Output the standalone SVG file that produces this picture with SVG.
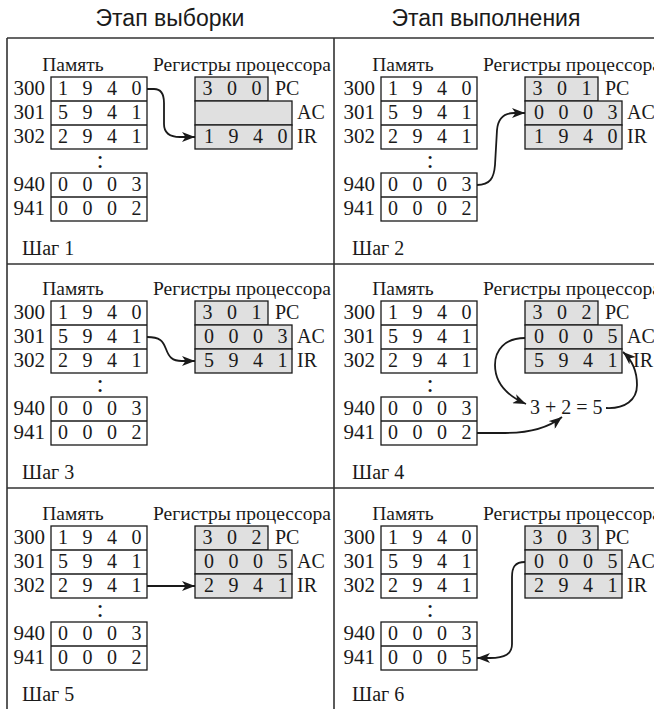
<svg xmlns="http://www.w3.org/2000/svg" width="654" height="709" viewBox="0 0 654 709">
<style>
text{font-family:"Liberation Serif","Times New Roman",serif;fill:#1a1a1a;font-size:20px}
.title{font-family:"Liberation Sans",Arial,sans-serif;font-size:23px;text-anchor:middle}
.h{font-size:19.5px}
.c{text-anchor:middle}
.e{text-anchor:end;font-size:21px}
.mem{fill:#fff;stroke:#1a1a1a;stroke-width:1.3}
.reg{fill:#e0e0e0;stroke:#1a1a1a;stroke-width:1.3}
.div{fill:none;stroke:#1a1a1a;stroke-width:1.3}
.frame{fill:none;stroke:#333;stroke-width:1.6}
.arr{fill:none;stroke:#1a1a1a;stroke-width:1.8;marker-end:url(#ah)}
</style>
<defs>
<marker id="ah" markerUnits="userSpaceOnUse" markerWidth="14" markerHeight="10" refX="13" refY="5" orient="auto">
<path d="M0,0 L13,5 L0,10 L3.5,5 z" fill="#1a1a1a"/>
</marker>
</defs>
<rect width="654" height="709" fill="#fff"/>
<text class="title" x="170" y="26">Этап выборки</text>
<text class="title" x="486" y="26">Этап выполнения</text>
<g id="frame">
<path class="frame" d="M7,38 H654 M7,38 V709 M334,38 V709 M7,264 H654 M7,488 H654"/>
</g>

<g id="step1" transform="translate(0,0)">
<text class="c h" x="73" y="71">Память</text>
<text class="h" x="153" y="71">Регистры процессора</text>
<rect class="mem" x="51" y="77" width="96" height="72"/>
<path class="div" d="M51,101 H147 M51,125 H147"/>
<rect class="mem" x="51" y="173" width="96" height="48"/>
<path class="div" d="M51,197 H147"/>
<text class="e" x="45" y="95">300</text>
<text class="e" x="45" y="119">301</text>
<text class="e" x="45" y="143">302</text>
<text class="c" x="100" y="168" style="font-size:26px">:</text>
<text class="e" x="45" y="191">940</text>
<text class="e" x="45" y="215">941</text>
<text class="c" x="63 87.5 112 136.5" y="95">1940</text>
<text class="c" x="63 87.5 112 136.5" y="119">5941</text>
<text class="c" x="63 87.5 112 136.5" y="143">2941</text>
<text class="c" x="63 87.5 112 136.5" y="191">0003</text>
<text class="c" x="63 87.5 112 136.5" y="215">0002</text>
<rect class="reg" x="195" y="77" width="73" height="24"/>
<rect class="reg" x="195" y="101" width="97" height="24"/>
<rect class="reg" x="195" y="125" width="97" height="24"/>
<text class="c" x="207.5 232 256.5" y="95">300</text>
<text class="c" x="209 233.5 258 282.5" y="143">1940</text>
<text x="275" y="95">PC</text>
<text x="297" y="119">AC</text>
<text x="297" y="143">IR</text>
<text x="22" y="255">Шаг 1</text>
</g>

<g id="step2" transform="translate(330,0)">
<text class="c h" x="73" y="71">Память</text>
<text class="h" x="153" y="71">Регистры процессора</text>
<rect class="mem" x="51" y="77" width="96" height="72"/>
<path class="div" d="M51,101 H147 M51,125 H147"/>
<rect class="mem" x="51" y="173" width="96" height="48"/>
<path class="div" d="M51,197 H147"/>
<text class="e" x="45" y="95">300</text>
<text class="e" x="45" y="119">301</text>
<text class="e" x="45" y="143">302</text>
<text class="c" x="100" y="168" style="font-size:26px">:</text>
<text class="e" x="45" y="191">940</text>
<text class="e" x="45" y="215">941</text>
<text class="c" x="63 87.5 112 136.5" y="95">1940</text>
<text class="c" x="63 87.5 112 136.5" y="119">5941</text>
<text class="c" x="63 87.5 112 136.5" y="143">2941</text>
<text class="c" x="63 87.5 112 136.5" y="191">0003</text>
<text class="c" x="63 87.5 112 136.5" y="215">0002</text>
<rect class="reg" x="195" y="77" width="73" height="24"/>
<rect class="reg" x="195" y="101" width="97" height="24"/>
<rect class="reg" x="195" y="125" width="97" height="24"/>
<text class="c" x="207.5 232 256.5" y="95">301</text>
<text class="c" x="209 233.5 258 282.5" y="119">0003</text>
<text class="c" x="209 233.5 258 282.5" y="143">1940</text>
<text x="275" y="95">PC</text>
<text x="297" y="119">AC</text>
<text x="297" y="143">IR</text>
<text x="22" y="255">Шаг 2</text>
</g>

<g id="step3" transform="translate(0,224)">
<text class="c h" x="73" y="71">Память</text>
<text class="h" x="153" y="71">Регистры процессора</text>
<rect class="mem" x="51" y="77" width="96" height="72"/>
<path class="div" d="M51,101 H147 M51,125 H147"/>
<rect class="mem" x="51" y="173" width="96" height="48"/>
<path class="div" d="M51,197 H147"/>
<text class="e" x="45" y="95">300</text>
<text class="e" x="45" y="119">301</text>
<text class="e" x="45" y="143">302</text>
<text class="c" x="100" y="168" style="font-size:26px">:</text>
<text class="e" x="45" y="191">940</text>
<text class="e" x="45" y="215">941</text>
<text class="c" x="63 87.5 112 136.5" y="95">1940</text>
<text class="c" x="63 87.5 112 136.5" y="119">5941</text>
<text class="c" x="63 87.5 112 136.5" y="143">2941</text>
<text class="c" x="63 87.5 112 136.5" y="191">0003</text>
<text class="c" x="63 87.5 112 136.5" y="215">0002</text>
<rect class="reg" x="195" y="77" width="73" height="24"/>
<rect class="reg" x="195" y="101" width="97" height="24"/>
<rect class="reg" x="195" y="125" width="97" height="24"/>
<text class="c" x="207.5 232 256.5" y="95">301</text>
<text class="c" x="209 233.5 258 282.5" y="119">0003</text>
<text class="c" x="209 233.5 258 282.5" y="143">5941</text>
<text x="275" y="95">PC</text>
<text x="297" y="119">AC</text>
<text x="297" y="143">IR</text>
<text x="22" y="255">Шаг 3</text>
</g>

<g id="step4" transform="translate(330,224)">
<text class="c h" x="73" y="71">Память</text>
<text class="h" x="153" y="71">Регистры процессора</text>
<rect class="mem" x="51" y="77" width="96" height="72"/>
<path class="div" d="M51,101 H147 M51,125 H147"/>
<rect class="mem" x="51" y="173" width="96" height="48"/>
<path class="div" d="M51,197 H147"/>
<text class="e" x="45" y="95">300</text>
<text class="e" x="45" y="119">301</text>
<text class="e" x="45" y="143">302</text>
<text class="c" x="100" y="168" style="font-size:26px">:</text>
<text class="e" x="45" y="191">940</text>
<text class="e" x="45" y="215">941</text>
<text class="c" x="63 87.5 112 136.5" y="95">1940</text>
<text class="c" x="63 87.5 112 136.5" y="119">5941</text>
<text class="c" x="63 87.5 112 136.5" y="143">2941</text>
<text class="c" x="63 87.5 112 136.5" y="191">0003</text>
<text class="c" x="63 87.5 112 136.5" y="215">0002</text>
<rect class="reg" x="195" y="77" width="73" height="24"/>
<rect class="reg" x="195" y="101" width="97" height="24"/>
<rect class="reg" x="195" y="125" width="97" height="24"/>
<text class="c" x="207.5 232 256.5" y="95">302</text>
<text class="c" x="209 233.5 258 282.5" y="119">0005</text>
<text class="c" x="209 233.5 258 282.5" y="143">5941</text>
<text x="275" y="95">PC</text>
<text x="297" y="119">AC</text>
<text x="303" y="143">IR</text>
<text x="200" y="190">3 + 2 = 5</text>
<text x="22" y="255">Шаг 4</text>
</g>

<g id="step5" transform="translate(0,449)">
<text class="c h" x="73" y="71">Память</text>
<text class="h" x="153" y="71">Регистры процессора</text>
<rect class="mem" x="51" y="77" width="96" height="72"/>
<path class="div" d="M51,101 H147 M51,125 H147"/>
<rect class="mem" x="51" y="173" width="96" height="48"/>
<path class="div" d="M51,197 H147"/>
<text class="e" x="45" y="95">300</text>
<text class="e" x="45" y="119">301</text>
<text class="e" x="45" y="143">302</text>
<text class="c" x="100" y="168" style="font-size:26px">:</text>
<text class="e" x="45" y="191">940</text>
<text class="e" x="45" y="215">941</text>
<text class="c" x="63 87.5 112 136.5" y="95">1940</text>
<text class="c" x="63 87.5 112 136.5" y="119">5941</text>
<text class="c" x="63 87.5 112 136.5" y="143">2941</text>
<text class="c" x="63 87.5 112 136.5" y="191">0003</text>
<text class="c" x="63 87.5 112 136.5" y="215">0002</text>
<rect class="reg" x="195" y="77" width="73" height="24"/>
<rect class="reg" x="195" y="101" width="97" height="24"/>
<rect class="reg" x="195" y="125" width="97" height="24"/>
<text class="c" x="207.5 232 256.5" y="95">302</text>
<text class="c" x="209 233.5 258 282.5" y="119">0005</text>
<text class="c" x="209 233.5 258 282.5" y="143">2941</text>
<text x="275" y="95">PC</text>
<text x="297" y="119">AC</text>
<text x="297" y="143">IR</text>
<text x="22" y="252">Шаг 5</text>
</g>

<g id="step6" transform="translate(330,449)">
<text class="c h" x="73" y="71">Память</text>
<text class="h" x="153" y="71">Регистры процессора</text>
<rect class="mem" x="51" y="77" width="96" height="72"/>
<path class="div" d="M51,101 H147 M51,125 H147"/>
<rect class="mem" x="51" y="173" width="96" height="48"/>
<path class="div" d="M51,197 H147"/>
<text class="e" x="45" y="95">300</text>
<text class="e" x="45" y="119">301</text>
<text class="e" x="45" y="143">302</text>
<text class="c" x="100" y="168" style="font-size:26px">:</text>
<text class="e" x="45" y="191">940</text>
<text class="e" x="45" y="215">941</text>
<text class="c" x="63 87.5 112 136.5" y="95">1940</text>
<text class="c" x="63 87.5 112 136.5" y="119">5941</text>
<text class="c" x="63 87.5 112 136.5" y="143">2941</text>
<text class="c" x="63 87.5 112 136.5" y="191">0003</text>
<text class="c" x="63 87.5 112 136.5" y="215">0005</text>
<rect class="reg" x="195" y="77" width="73" height="24"/>
<rect class="reg" x="195" y="101" width="97" height="24"/>
<rect class="reg" x="195" y="125" width="97" height="24"/>
<text class="c" x="207.5 232 256.5" y="95">303</text>
<text class="c" x="209 233.5 258 282.5" y="119">0005</text>
<text class="c" x="209 233.5 258 282.5" y="143">2941</text>
<text x="275" y="95">PC</text>
<text x="297" y="119">AC</text>
<text x="297" y="143">IR</text>
<text x="22" y="252">Шаг 6</text>
</g>

<g id="connectors">
<path class="arr" d="M147,89 L154,89 C162,89 164,95 164,103 L164,124 C164,133 170,137 180,137 L195,137"/>
<path class="arr" d="M477,185 C490,185 494,178 495,165 L497,130 C498,118 504,113 514,113 L525,113"/>
<path class="arr" d="M147,337 C160,337 163,341 166,349 C169,357 172,361 182,361 L195,361"/>
<path class="arr" d="M477,433 L505,433 C530,433 548,428 562,417"/>
<path class="arr" d="M525,338 C505,338 495,350 495,365 C495,383 508,396 526,404"/>
<path class="arr" d="M606,408 C625,409 637,400 637,385 C637,370 632,360 623,352"/>
<path class="arr" d="M147,586 L195,586"/>
<path class="arr" d="M525,562 C515,562 512,567 512,577 L512,644 C512,654 505,658 490,658 L477,658"/>
</g>
</svg>
